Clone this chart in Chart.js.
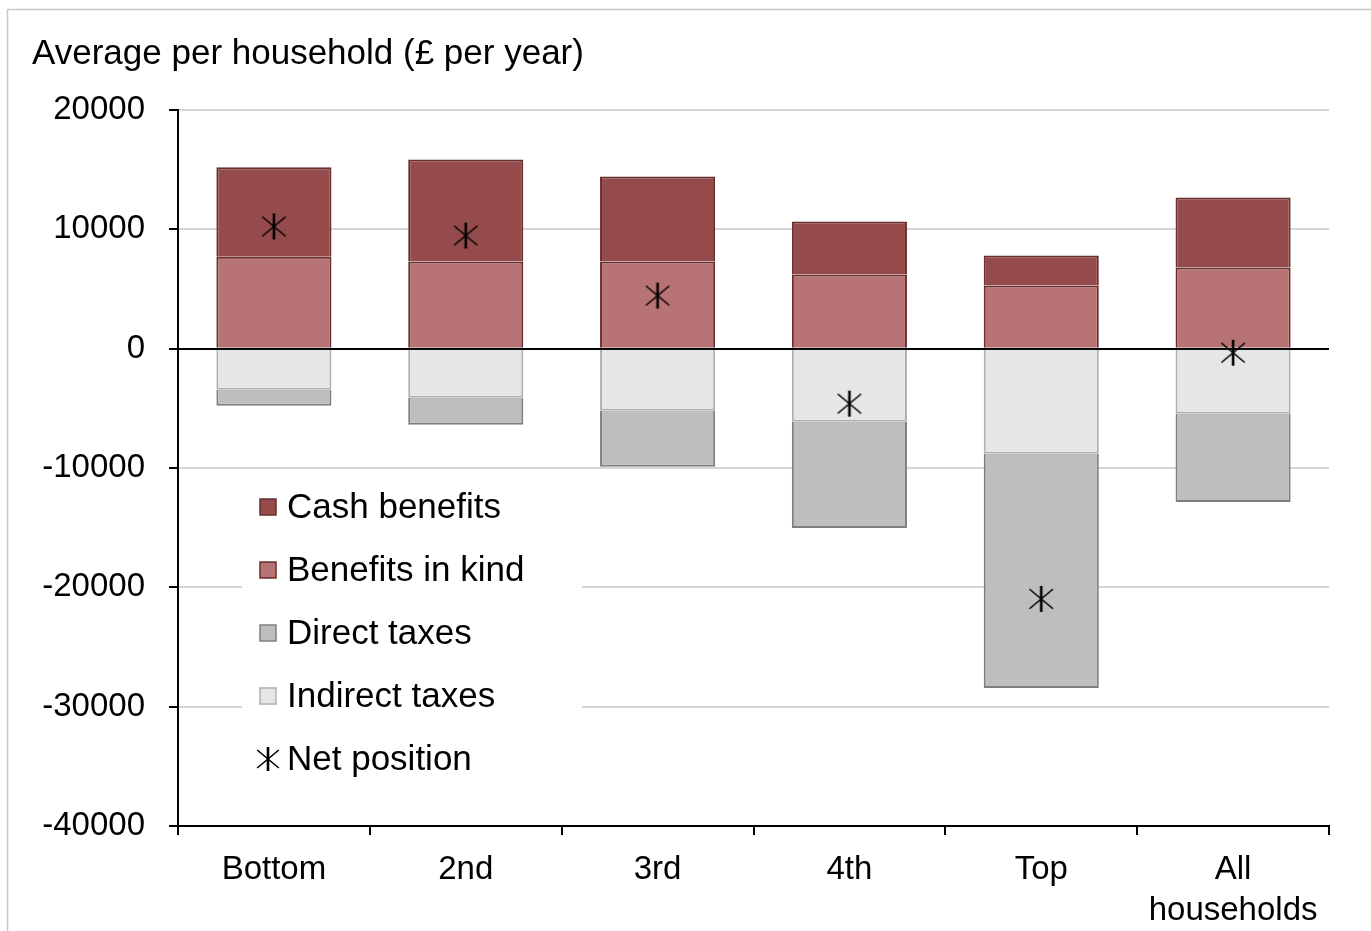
<!DOCTYPE html>
<html>
<head>
<meta charset="utf-8">
<script src="https://cdn.jsdelivr.net/npm/chart.js@4.4.0/dist/chart.umd.min.js"></script>
<style>
html, body { margin: 0; padding: 0; background: #fff; }
#wrap { position: relative; width: 1371px; height: 931px; }
</style>
</head>
<body>
<div id="wrap"><canvas id="chart" width="1371" height="931"></canvas></div>
<script>
// data (£ per household per year)
const groups = ['Bottom', '2nd', '3rd', '4th', 'Top', ['All', 'households']];
const cashBenefits = [7500, 8560, 7130, 4440, 2520, 5870];
const benefitsInKind = [7700, 7300, 7300, 6210, 5290, 6800];
const directTaxes = [-1340, -2270, -4700, -8900, -19630, -7390];
const indirectTaxes = [-3440, -4110, -5200, -6120, -8810, -5450];
const netPosition = [10240, 9480, 4450, -4610, -20970, -340];
const yTicks = [20000, 10000, 0, -10000, -20000, -30000, -40000];

const FONT = "'Liberation Sans', Arial, sans-serif";

// asterisk marker used for the net position
function drawAsterisk(ctx, x, y, r) {
    ctx.save();
    ctx.strokeStyle = '#000';
    ctx.lineWidth = 1.6;
    ctx.beginPath();
    ctx.moveTo(x - r * 0.9, y - r * 0.75);
    ctx.lineTo(x + r * 0.9, y + r * 0.75);
    ctx.moveTo(x + r * 0.9, y - r * 0.75);
    ctx.lineTo(x - r * 0.9, y + r * 0.75);
    ctx.stroke();
    ctx.lineWidth = 2.6;
    ctx.beginPath();
    ctx.moveTo(x, y - r);
    ctx.lineTo(x, y + r);
    ctx.stroke();
    ctx.restore();
}
const starImg = document.createElement('canvas');
starImg.width = 30; starImg.height = 30;
drawAsterisk(starImg.getContext('2d'), 15, 15, 13);

const legendItems = [
    { label: 'Cash benefits', fill: '#954b4b', border: '#6a2d2d' },
    { label: 'Benefits in kind', fill: '#b87474', border: '#6a2d2d' },
    { label: 'Direct taxes', fill: '#bebebe', border: '#7f7f7f' },
    { label: 'Indirect taxes', fill: '#e6e6e6', border: '#b0b0b0' },
    { label: 'Net position', star: true }
];

// legend sits inside the plot, drawn over the gridlines but under the bars
const insideLegend = {
    id: 'insideLegend',
    beforeDatasetsDraw(chart) {
        const ctx = chart.ctx;
        ctx.save();
        ctx.fillStyle = '#fff';
        ctx.fillRect(242, 478, 340, 312);
        ctx.font = '35px ' + FONT;
        ctx.textBaseline = 'middle';
        ctx.fillStyle = '#000';
        legendItems.forEach((it, i) => {
            const y = 507 + i * 63;
            if (it.star) {
                drawAsterisk(ctx, 268, y, 12);
            } else {
                ctx.fillStyle = it.fill;
                ctx.fillRect(260, y - 8, 16, 16);
                ctx.strokeStyle = it.border;
                ctx.lineWidth = 1.5;
                ctx.strokeRect(260, y - 8, 16, 16);
            }
            ctx.fillStyle = '#000';
            ctx.fillText(it.label, 287, y + 1);
        });
        ctx.restore();
    }
};

// title text and outer frame
const decorations = {
    id: 'decorations',
    afterDraw(chart) {
        const ctx = chart.ctx;
        ctx.save();
        ctx.strokeStyle = '#c8c8c8';
        ctx.lineWidth = 1.5;
        ctx.beginPath();
        ctx.moveTo(7.5, 931);
        ctx.lineTo(7.5, 9.5);
        ctx.lineTo(1371, 9.5);
        ctx.stroke();
        ctx.font = '35px ' + FONT;
        ctx.fillStyle = '#000';
        ctx.textBaseline = 'middle';
        ctx.fillText('Average per household (£ per year)', 32, 54);
        ctx.restore();
    }
};

new Chart(document.getElementById('chart'), {
    data: {
        labels: groups,
        datasets: [
            {
                type: 'line', label: 'Net position', data: netPosition,
                showLine: false, pointStyle: starImg, stack: 'net', order: 0
            },
            {
                type: 'bar', label: 'Benefits in kind', data: benefitsInKind,
                backgroundColor: '#b87474', borderColor: '#6a2d2d', borderWidth: 2, order: 1
            },
            {
                type: 'bar', label: 'Cash benefits', data: cashBenefits,
                backgroundColor: '#954b4b', borderColor: '#6a2d2d', borderWidth: 2, order: 1
            },
            {
                type: 'bar', label: 'Indirect taxes', data: indirectTaxes,
                backgroundColor: '#e6e6e6', borderColor: '#b0b0b0', borderWidth: 2, order: 1
            },
            {
                type: 'bar', label: 'Direct taxes', data: directTaxes,
                backgroundColor: '#bebebe', borderColor: '#7f7f7f', borderWidth: 2, order: 1
            }
        ]
    },
    options: {
        responsive: false,
        animation: false,
        layout: { padding: { top: 110, left: 0, right: 42, bottom: 0 } },
        datasets: { bar: { categoryPercentage: 1, barPercentage: 0.6 } },
        plugins: {
            legend: { display: false },
            tooltip: { enabled: false }
        },
        scales: {
            x: {
                stacked: true,
                offset: true,
                grid: { display: true, drawOnChartArea: false, offset: true, tickLength: 9, color: '#000', lineWidth: 2 },
                border: { color: '#000', width: 2 },
                ticks: { color: '#000', font: { family: FONT, size: 33, lineHeight: 1.25 }, padding: 14, maxRotation: 0 },
                afterFit(scale) { scale.height = 105; }
            },
            y: {
                stacked: true,
                min: -40000,
                max: 20000,
                afterBuildTicks(scale) { scale.ticks = yTicks.map(v => ({ value: v })); },
                grid: {
                    tickLength: 9,
                    lineWidth: 2,
                    color: ctx => (ctx.tick && ctx.tick.value === 0) ? '#000' : '#d6d6d6',
                    tickColor: '#000'
                },
                border: { color: '#000', width: 2 },
                ticks: {
                    color: '#000', font: { family: FONT, size: 33 }, padding: 24,
                    callback: v => String(v)
                },
                afterFit(scale) { scale.width = 178; }
            }
        }
    },
    plugins: [insideLegend, decorations]
});
</script>
</body>
</html>
